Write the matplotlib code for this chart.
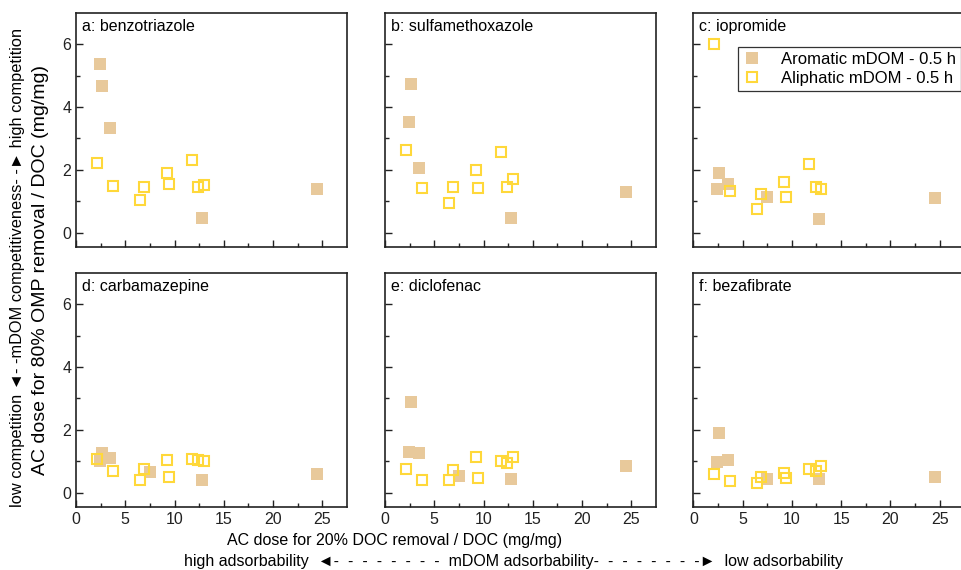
import matplotlib
matplotlib.use('Agg')
import matplotlib.pyplot as plt
import numpy as np

plt.rcParams['font.family'] = ['Liberation Sans', 'DejaVu Sans']

# x values shared by all panels (AC dose for 20% DOC removal / DOC)
arom_x = [2.4, 2.6, 3.5, 7.5, 12.8, 24.5]
aliph_x = [2.1, 3.75, 6.5, 6.9, 9.2, 9.45, 11.75, 12.4, 13.0]

titles = ['a: benzotriazole', 'b: sulfamethoxazole', 'c: iopromide',
          'd: carbamazepine', 'e: diclofenac', 'f: bezafibrate']

# AC dose for 80% OMP removal / DOC, one list per panel
arom_y = [
    [5.36, 4.68, 3.32, np.nan, 0.45, 1.38],
    [3.52, 4.73, 2.07, np.nan, 0.46, 1.29],
    [1.38, 1.89, 1.55, 1.13, 0.43, 1.09],
    [1.01, 1.27, 1.09, 0.66, 0.41, 0.58],
    [1.30, 2.90, 1.25, 0.52, 0.43, 0.84],
    [0.98, 1.89, 1.05, 0.44, 0.43, 0.50],
]
aliph_y = [
    [2.21, 1.50, 1.04, 1.46, 1.89, 1.54, 2.32, 1.45, 1.51],
    [2.63, 1.43, 0.95, 1.45, 2.00, 1.41, 2.56, 1.45, 1.70],
    [6.01, 1.31, 0.74, 1.23, 1.62, 1.13, 2.18, 1.45, 1.39],
    [1.06, 0.68, 0.39, 0.75, 1.03, 0.50, 1.08, 1.05, 1.00],
    [0.74, 0.39, 0.41, 0.71, 1.15, 0.48, 1.01, 0.95, 1.12],
    [0.58, 0.37, 0.30, 0.51, 0.63, 0.46, 0.74, 0.69, 0.85],
]

arom_col = '#e8c99b'
aliph_col = '#ffd83a'
fs = 11.5

fig = plt.figure(figsize=(9.62, 5.70), dpi=100)

lefts = [0.079, 0.4002, 0.7207]
bottoms = [0.5667, 0.1105]
w, h = 0.2817, 0.4105

axes = []
for i in range(6):
    r, c = divmod(i, 3)
    ax = fig.add_axes([lefts[c], bottoms[r], w, h])
    axes.append(ax)

    ax.plot(arom_x, arom_y[i], 's', color=arom_col, ms=8.2, mew=0,
            label='Aromatic mDOM - 0.5 h')
    ax.plot(aliph_x, aliph_y[i], 's', mfc='none', mec=aliph_col, ms=7.5, mew=1.5,
            label='Aliphatic mDOM - 0.5 h')

    ax.set_xlim(0, 27.5)
    ax.set_ylim(-0.46, 7.0)
    ax.set_xticks([0, 5, 10, 15, 20, 25])
    ax.set_xticks([2.5, 7.5, 12.5, 17.5, 22.5], minor=True)
    ax.set_yticks([0, 2, 4, 6])
    ax.set_yticks([1, 3, 5], minor=True)
    ax.tick_params(which='both', direction='in', top=False, right=False,
                   labelsize=fs, colors='#222222', width=1)
    ax.tick_params(which='major', length=5)
    ax.tick_params(which='minor', length=3)
    for sp in ax.spines.values():
        sp.set_linewidth(1.2)
        sp.set_color('#222222')
    if r == 0:
        ax.tick_params(labelbottom=False)
    if c > 0:
        ax.tick_params(labelleft=False)

    ax.text(0.022, 0.975, titles[i], transform=ax.transAxes, ha='left', va='top',
            fontsize=fs)

leg = axes[2].legend(loc='upper left', bbox_to_anchor=(0.165, 0.855), fontsize=12,
                     frameon=True, fancybox=False, edgecolor='black',
                     borderpad=0.3, handletextpad=1.2, labelspacing=0.25,
                     handlelength=1.1, borderaxespad=0)
leg.get_frame().set_linewidth(0.9)

fig.text(0.018, 0.531,
         'low competition \u25c4- -mDOM competitiveness- -\u25ba high competition',
         rotation=90, ha='center', va='center', fontsize=11.8)
fig.text(0.042, 0.526, 'AC dose for 80% OMP removal / DOC (mg/mg)',
         rotation=90, ha='center', va='center', fontsize=14)

fig.text(0.41, 0.051, 'AC dose for 20% DOC removal / DOC (mg/mg)',
         ha='center', va='center', fontsize=fs)
dashes = '  '.join(['-'] * 8)
fig.text(0.534, 0.015,
         'high adsorbability  \u25c4' + dashes + '  mDOM adsorbability' + dashes + '\u25ba  low adsorbability',
         ha='center', va='center', fontsize=fs)

fig.savefig('out.png', dpi=100)
